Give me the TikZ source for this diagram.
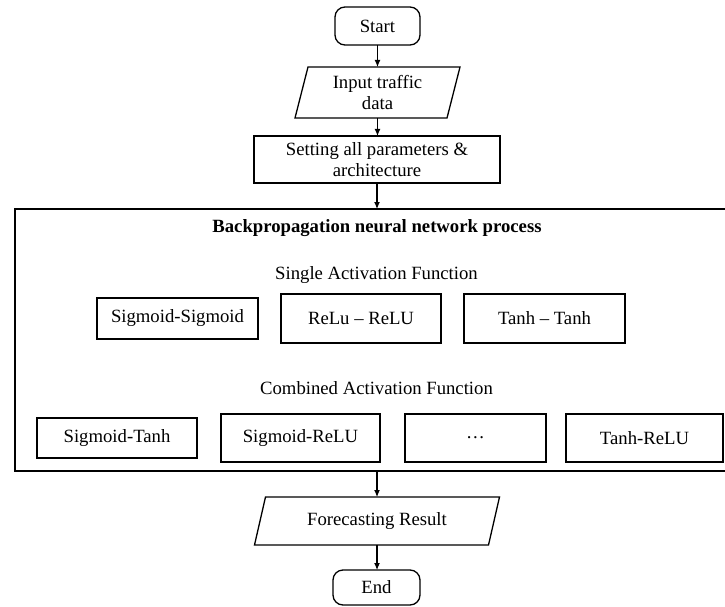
\documentclass[tikz,border=0pt]{standalone}
\usepackage{fontspec}
\setmainfont{Liberation Serif}
\usetikzlibrary{calc,arrows.meta}
\begin{document}
\begin{tikzpicture}[x=1pt,y=-1pt,
  every node/.style={font=\fontsize{18.7}{21.5}\selectfont, inner sep=0pt, outer sep=0pt, align=center},
  line/.style={line width=1.3pt},
  term/.style={draw, line width=1.3pt, rounded corners=10pt},
  box/.style={draw, line width=1.3pt},
  io/.style={},
  arr/.style={line width=1.1pt, -{Latex[length=7pt,width=6pt]}}]
\useasboundingbox (0,0) rectangle (725,607);
\clip (0,0) rectangle (725,607);
% terminals
\node[term, minimum width=85pt, minimum height=38pt] (start) at (377.5,26) {Start};
\node[io, minimum width=152pt, minimum height=51pt] (in) at (377.5,92.5) {Input traffic\\data};
\draw[line] ($(in.north west)+(6.5,0)$) -- ($(in.north east)+(6.5,0)$) -- ($(in.south east)+(-6.5,0)$) -- ($(in.south west)+(-6.5,0)$) -- cycle;
\node[box, minimum width=246pt, minimum height=47pt] (set) at (377,159.5) {Setting all parameters \&\\architecture};
% big box
\coordinate (bbtop) at (377,209);
\coordinate (bbbot) at (377,471);
\draw[line] (740,209) -- (15,209) -- (15,471) -- (740,471);
\node[font=\fontsize{18.7}{21.5}\selectfont\bfseries] (title) at (377,228) {Backpropagation neural network process};
\node (single) at (376.5,275) {Single Activation Function};
\node[box, minimum width=161pt, minimum height=41pt] (ss) at (177.5,318.5) {Sigmoid-Sigmoid};
\node[box, minimum width=160pt, minimum height=49pt] (rr) at (361,318.5) {ReLu -- ReLU};
\node[box, minimum width=161pt, minimum height=49pt] (tt) at (544.5,318.5) {Tanh -- Tanh};
\node (comb) at (376.5,388) {Combined Activation Function};
\node[box, minimum width=160pt, minimum height=40pt] (st) at (117,438) {Sigmoid-Tanh};
\node[box, minimum width=159pt, minimum height=48pt] (sr) at (300.5,438) {Sigmoid-ReLU};
\node[box, minimum width=141pt, minimum height=48pt] (dots) at (475.5,438) {\dots};
\node[box, minimum width=157pt, minimum height=48pt] (tr) at (644.5,438) {Tanh-ReLU};
% output
\node[io, minimum width=234pt, minimum height=48pt] (fc) at (377,521) {Forecasting Result};
\draw[line] ($(fc.north west)+(5.5,0)$) -- ($(fc.north east)+(5.5,0)$) -- ($(fc.south east)+(-5.5,0)$) -- ($(fc.south west)+(-5.5,0)$) -- cycle;
\node[term, minimum width=87pt, minimum height=35pt] (end) at (376.5,587.5) {End};
% arrows
\draw[arr] (start.south) -- (start.south |- in.north);
\draw[arr] (in.south) -- (in.south |- set.north);
\draw[arr] (set.south) -- (bbtop);
\draw[arr] (bbbot) -- (bbbot |- fc.north);
\draw[arr] (fc.south) -- (fc.south |- end.north);
\end{tikzpicture}
\end{document}
